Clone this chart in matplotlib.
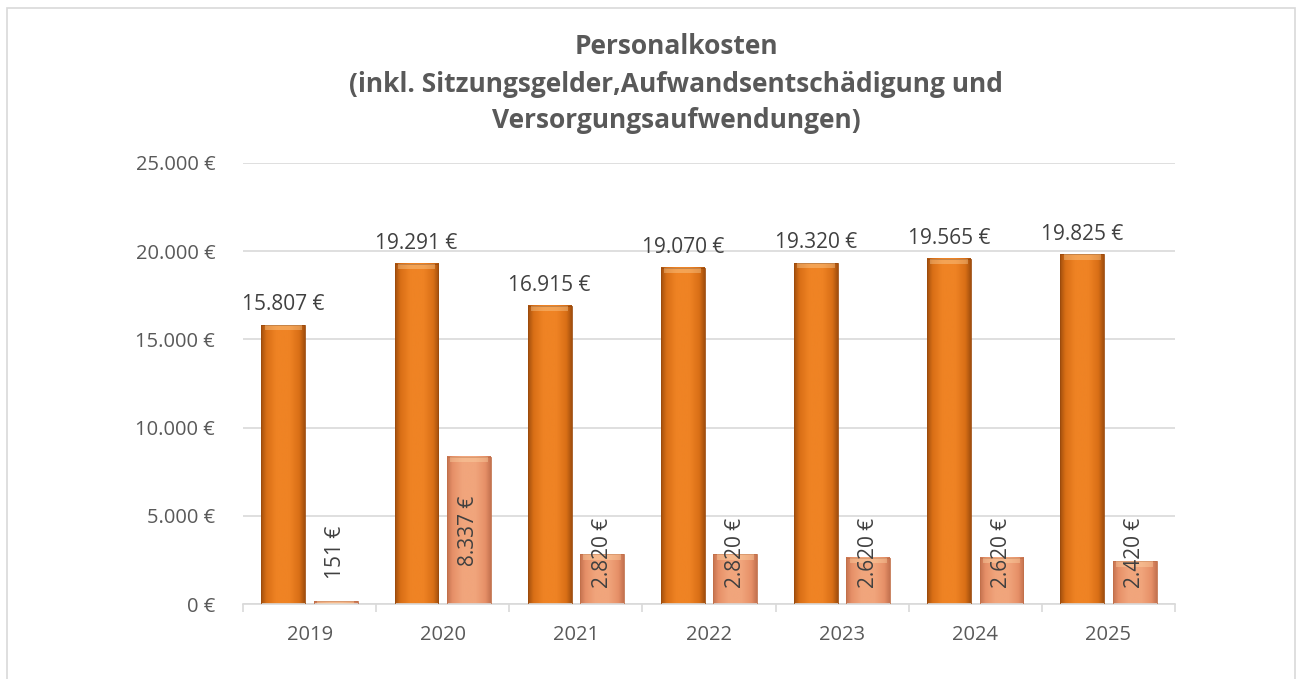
import numpy as np
import matplotlib
matplotlib.use("Agg")
import matplotlib.pyplot as plt
from matplotlib.colors import LinearSegmentedColormap
from matplotlib.patches import Rectangle

plt.rcParams['font.family'] = ['Open Sans', 'DejaVu Sans']

jahre = ['2019', '2020', '2021', '2022', '2023', '2024', '2025']
personal = [15807, 19291, 16915, 19070, 19320, 19565, 19825]
zweite = [151, 8337, 2820, 2820, 2620, 2620, 2420]
titel = ['Personalkosten',
         '(inkl. Sitzungsgelder,Aufwandsentschädigung und',
         'Versorgungsaufwendungen)']
yticks = [0, 5000, 10000, 15000, 20000, 25000]


def euro(v):
    return f"{v:,.0f}".replace(",", ".") + " €"


# farbverlauf fuer die balken (dunkle raender, helle mitte)
cm_dunkel = LinearSegmentedColormap.from_list(
    'dunkel', [(0, '#A3500E'), (0.12, '#D96F16'), (0.35, '#EF8324'),
               (0.65, '#EF8324'), (0.88, '#D96F16'), (1, '#A3500E')])
cm_hell = LinearSegmentedColormap.from_list(
    'hell', [(0, '#C57350'), (0.12, '#E69068'), (0.35, '#F1A57C'),
             (0.65, '#F1A57C'), (0.88, '#E69068'), (1, '#C57350')])
verlauf = np.linspace(0, 1, 64).reshape(1, -1)

fig = plt.figure(figsize=(12.98, 6.79), dpi=100)
fig.patches.append(Rectangle((7 / 1298, -0.05), 1288 / 1298, 1 - 8 / 679 + 0.05,
                             transform=fig.transFigure, fill=False,
                             edgecolor='#D9D9D9', linewidth=1.2))
ax = fig.add_axes([243 / 1298, 75 / 679, 932 / 1298, 441 / 679])

x = np.arange(len(jahre))
w = 0.33
off = 0.197

for i in range(len(jahre)):
    for xc, v, cm, ec in [(x[i] - off, personal[i], cm_dunkel, '#9C4A0C'),
                          (x[i] + off, zweite[i], cm_hell, '#C27049')]:
        ax.imshow(verlauf, cmap=cm, aspect='auto', zorder=2,
                  extent=[xc - w / 2, xc + w / 2, 0, v], interpolation='bicubic')
        ax.bar(xc, v, w, fill=False, edgecolor=ec, linewidth=0.6, zorder=3)
        # heller rand oben
        kante = min(v, 300)
        ax.bar(xc, kante, w * 0.85, bottom=v - kante, color='#FFE0B0',
               alpha=0.35, linewidth=0, zorder=3)

for i in range(len(jahre)):
    ax.annotate(euro(personal[i]), (x[i] - off, personal[i]),
                xytext=(0, 7), textcoords='offset points', ha='center',
                va='bottom', fontsize=15, color='#404040')
    yc = max(zweite[i] / 2, 2900)
    ax.text(x[i] + off, yc, euro(zweite[i]), rotation=90, ha='center',
            va='center', fontsize=15, color='#404040', zorder=4)

ax.set_xlim(-0.5, len(jahre) - 0.5)
ax.set_ylim(0, 25000)
ax.set_yticks(yticks)
ax.set_yticklabels([euro(t) for t in yticks])
ax.tick_params(axis='y', length=0, pad=20, labelsize=14.5, labelcolor='#595959')
ax.set_xticks(np.arange(-0.5, len(jahre), 1))
ax.set_xticklabels([])
ax.set_xticks(x, minor=True)
ax.set_xticklabels(jahre, minor=True)
ax.tick_params(axis='x', which='major', length=6, color='#D9D9D9', width=1.2)
ax.tick_params(axis='x', which='minor', length=0, pad=15, labelsize=14.5,
               labelcolor='#595959')
ax.grid(axis='y', color='#D9D9D9', linewidth=1.2, zorder=0)
ax.set_axisbelow(True)
for s in ['left', 'right', 'top']:
    ax.spines[s].set_visible(False)
ax.spines['bottom'].set_color('#D9D9D9')
ax.spines['bottom'].set_linewidth(1.2)

for k, zeile in enumerate(titel):
    fig.text(676 / 1298, 1 - (47 + 37 * k) / 679, zeile, ha='center',
             va='center', fontsize=19, fontweight='bold', color='#595959')

fig.savefig('out.png', dpi=100)
